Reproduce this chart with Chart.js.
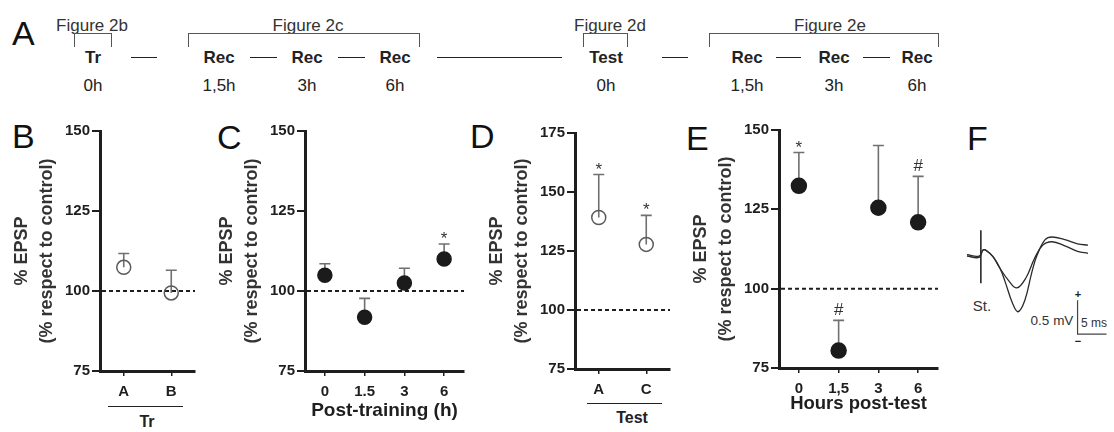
<!DOCTYPE html>
<html>
<head>
<meta charset="utf-8">
<script src="https://cdn.jsdelivr.net/npm/chart.js@4.4.1/dist/chart.umd.min.js"></script>
<style>
  body { margin: 0; background: #fff; width: 1114px; height: 432px; overflow: hidden; position: relative;
         font-family: "Liberation Sans", Arial, sans-serif; }
  canvas { position: absolute; left: 0; top: 0; }
  .t { position: absolute; transform: translate(-50%, -50%); white-space: nowrap; color: #222; font-size: 17px; line-height: 1; }
  .b { font-weight: bold; }
  .letter { position: absolute; font-size: 34px; line-height: 34px; color: #111; }
  .brk { position: absolute; top: 33px; height: 13px; border: 1.5px solid #555; border-bottom: none; }
  .dash { position: absolute; height: 0; border-top: 1.5px solid #222; }
</style>
</head>
<body>

<!-- A: protocol timeline -->
<div class="letter" style="left:12px;top:16px">A</div>
<div class="t" style="left:92px;top:25px;color:#333">Figure 2b</div>
<div class="brk" style="left:74px;width:36px"></div>
<div class="t b" style="left:93px;top:57px">Tr</div>
<div class="t" style="left:93px;top:85px">0h</div>
<div class="dash" style="left:131px;top:57px;width:26px"></div>

<div class="t" style="left:308px;top:25px;color:#333">Figure 2c</div>
<div class="brk" style="left:188px;width:230px"></div>
<div class="t b" style="left:219px;top:57px">Rec</div>
<div class="dash" style="left:250px;top:57px;width:27px"></div>
<div class="t b" style="left:307px;top:57px">Rec</div>
<div class="dash" style="left:338px;top:57px;width:27px"></div>
<div class="t b" style="left:395px;top:57px">Rec</div>
<div class="t" style="left:219px;top:85px">1,5h</div>
<div class="t" style="left:307px;top:85px">3h</div>
<div class="t" style="left:395px;top:85px">6h</div>
<div class="dash" style="left:437px;top:57px;width:125px"></div>

<div class="t" style="left:610px;top:25px;color:#333">Figure 2d</div>
<div class="brk" style="left:583px;width:43px"></div>
<div class="t b" style="left:606px;top:57px">Test</div>
<div class="t" style="left:606px;top:85px">0h</div>
<div class="dash" style="left:662px;top:57px;width:26px"></div>

<div class="t" style="left:830px;top:25px;color:#333">Figure 2e</div>
<div class="brk" style="left:709px;width:228px"></div>
<div class="t b" style="left:747px;top:57px">Rec</div>
<div class="dash" style="left:776px;top:57px;width:25px"></div>
<div class="t b" style="left:834px;top:57px">Rec</div>
<div class="dash" style="left:863px;top:57px;width:27px"></div>
<div class="t b" style="left:917px;top:57px">Rec</div>
<div class="t" style="left:747px;top:85px">1,5h</div>
<div class="t" style="left:834px;top:85px">3h</div>
<div class="t" style="left:917px;top:85px">6h</div>

<!-- panel letters -->
<div class="letter" style="left:12px;top:119px">B</div>
<div class="letter" style="left:217px;top:120px">C</div>
<div class="letter" style="left:470px;top:119px">D</div>
<div class="letter" style="left:686px;top:121px">E</div>
<div class="letter" style="left:967px;top:121px">F</div>

<!-- group labels under B and D -->
<div class="dash" style="left:108px;top:406px;width:75px"></div>
<div class="t b" style="left:147px;top:422px;font-size:16px">Tr</div>
<div class="dash" style="left:587px;top:403px;width:75px"></div>
<div class="t b" style="left:632px;top:418px;font-size:16px">Test</div>

<!-- F labels -->
<div class="t" style="left:982px;top:305px;font-size:15px;color:#333">St.</div>
<div class="t" style="left:1052px;top:321px;font-size:13.5px;color:#333">0.5 mV</div>
<div class="t" style="left:1094px;top:323px;font-size:12px;color:#333">5 ms</div>
<div class="t b" style="left:1078px;top:294px;font-size:11px">+</div>
<div class="t b" style="left:1078px;top:341px;font-size:11px">&minus;</div>

<canvas id="chartB" width="1114" height="432"></canvas>
<canvas id="chartC" width="1114" height="432"></canvas>
<canvas id="chartD" width="1114" height="432"></canvas>
<canvas id="chartE" width="1114" height="432"></canvas>
<canvas id="chartF" width="1114" height="432"></canvas>

<script>
// ---- data ----
const trCats = ['A', 'B'];
const trMean = [107.4, 99.4];
const trErr = [4.3, 7.1];

const recHours = ['0', '1.5', '3', '6'];
const recMean = [104.9, 91.8, 102.5, 110.0];
const recErr = [3.6, 5.9, 4.6, 4.7];
const recSig = ['', '', '', '*'];

const testCats = ['A', 'C'];
const testMean = [139.2, 127.8];
const testErr = [18.2, 12.3];
const testSig = ['*', '*'];

const postHours = ['0', '1,5', '3', '6'];
const postMean = [132.4, 80.5, 125.5, 120.9];
const postErr = [10.5, 9.5, 19.6, 14.5];
const postSig = ['*', '#', '', '#'];

const yTitle = ['% EPSP', '(% respect to control)'];

// F: example EPSP traces (ms, mV)
const smallMs = [1.2, 3.3, 4.0, 4.7, 5.7, 6.9, 8.3, 9.8, 11.4, 12.9, 14.3, 15.9, 18.1, 20.3, 22.1];
const smallMv = [0, -0.02, 0.09, 0.07, -0.01, -0.18, -0.35, -0.47, -0.32, -0.03, 0.16, 0.21, 0.15, 0.07, 0.04];
const largeMs = [1.2, 3.3, 4.0, 4.7, 5.7, 6.9, 7.8, 9.0, 10.0, 11.2, 12.4, 13.3, 14.7, 15.9, 18.1, 20.3, 22.1];
const largeMv = [0.02, 0.0, 0.09, 0.07, -0.01, -0.18, -0.38, -0.68, -0.82, -0.65, -0.24, 0.01, 0.24, 0.28, 0.24, 0.18, 0.16];
const stimMs = 3.6;
const stimMv = [0.38, -0.40];
const barMv = 0.5;
const barMs = 5;
const barAnchor = [20.3, -0.65];

// ---- shared styling ----
const FONT = '"Liberation Sans", Arial, sans-serif';
Chart.defaults.font.family = FONT;
const INK = '#1e1e1e';

// dashed 100% line, upper error bars and significance marks
const panelExtras = {
  id: 'panelExtras',
  beforeDatasetsDraw(chart, args, opts) {
    if (!opts.mean) return;
    const {ctx, chartArea} = chart;
    const x = chart.scales.x, y = chart.scales.y;
    ctx.save();
    const y100 = y.getPixelForValue(100);
    ctx.strokeStyle = INK;
    ctx.lineWidth = 2;
    ctx.setLineDash([4, 3]);
    ctx.beginPath();
    ctx.moveTo(chartArea.left + 2, y100);
    ctx.lineTo(chartArea.right, y100);
    ctx.stroke();
    ctx.setLineDash([]);

    ctx.strokeStyle = '#707070';
    ctx.lineWidth = 1.6;
    ctx.fillStyle = '#333';
    ctx.textAlign = 'center';
    ctx.textBaseline = 'alphabetic';
    ctx.font = '17px ' + FONT;
    opts.mean.forEach((m, i) => {
      const px = x.getPixelForValue(i);
      const y0 = y.getPixelForValue(m);
      const y1 = y.getPixelForValue(m + opts.err[i]);
      ctx.beginPath();
      ctx.moveTo(px, y0);
      ctx.lineTo(px, y1);
      ctx.moveTo(px - 5.5, y1);
      ctx.lineTo(px + 5.5, y1);
      ctx.stroke();
      const s = opts.sig && opts.sig[i];
      if (s) ctx.fillText(s, px, y1 - (s === '*' ? 0 : 5));
    });
    ctx.restore();
  }
};

function makePanel(id, g, cats, mean, err, sig, opts) {
  const yW = 94.5;
  const xH = opts.xTitle ? opts.xTitleY - g.bottom + opts.xTitleSize * 0.6 : 32;
  new Chart(document.getElementById(id), {
    type: 'line',
    data: {
      labels: cats,
      datasets: [{
        data: mean,
        showLine: false,
        pointRadius: opts.r,
        pointBackgroundColor: opts.hollow ? 'rgba(0,0,0,0)' : '#1b1b1b',
        pointBorderColor: opts.hollow ? '#5a5a5a' : '#1b1b1b',
        pointBorderWidth: 1.5
      }]
    },
    options: {
      responsive: false,
      animation: false,
      events: [],
      layout: {
        padding: { left: g.left - yW, top: g.top, right: 1114 - g.right, bottom: 432 - g.bottom - xH }
      },
      plugins: {
        legend: { display: false },
        tooltip: { enabled: false },
        panelExtras: { mean: mean, err: err, sig: sig }
      },
      scales: {
        x: {
          type: 'category',
          offset: true,
          grid: { offset: false, drawOnChartArea: false, tickLength: 5, color: INK, lineWidth: 1.5 },
          border: { color: INK, width: 3 },
          ticks: { color: INK, padding: 7, font: { size: 15, weight: 'bold' } },
          title: opts.xTitle ? {
            display: true, text: opts.xTitle, color: INK, padding: { top: 0, bottom: 0 },
            font: { size: opts.xTitleSize, weight: 'bold', lineHeight: 1.2 }
          } : { display: false },
          afterFit(s) { s.height = xH; }
        },
        y: {
          min: 75,
          max: opts.yMax,
          grid: { drawOnChartArea: false, tickLength: 8, color: INK, lineWidth: 2 },
          border: { color: INK, width: 3 },
          ticks: { stepSize: 25, color: INK, padding: 2, font: { size: 15, weight: 'bold' } },
          title: {
            display: true, text: yTitle, color: '#333', padding: { top: 4, bottom: 0 },
            font: { size: 18, weight: 'bold', lineHeight: 25 / 18 }
          },
          afterFit(s) { s.width = yW; }
        }
      }
    },
    plugins: [panelExtras]
  });
}

makePanel('chartB', { left: 100, right: 195, top: 131, bottom: 371 }, trCats, trMean, trErr, null,
  { hollow: true, r: 7, yMax: 150 });
makePanel('chartC', { left: 305, right: 464, top: 131, bottom: 371 }, recHours, recMean, recErr, recSig,
  { hollow: false, r: 7, yMax: 150, xTitle: 'Post-training (h)', xTitleY: 411, xTitleSize: 19 });
makePanel('chartD', { left: 575, right: 670, top: 133, bottom: 369 }, testCats, testMean, testErr, testSig,
  { hollow: true, r: 7, yMax: 175 });
makePanel('chartE', { left: 779, right: 938, top: 130, bottom: 368 }, postHours, postMean, postErr, postSig,
  { hollow: false, r: 7.5, yMax: 150, xTitle: 'Hours post-test', xTitleY: 404, xTitleSize: 18.5 });

// F: traces
const toXY = (xs, ys) => xs.map((v, i) => ({ x: v, y: ys[i] }));
const traceStyle = { borderColor: '#2a2a2a', borderWidth: 1.3, pointRadius: 0, tension: 0.4, fill: false };
new Chart(document.getElementById('chartF'), {
  type: 'line',
  data: {
    datasets: [
      Object.assign({ data: toXY(smallMs, smallMv) }, traceStyle),
      Object.assign({ data: toXY(largeMs, largeMv) }, traceStyle),
      Object.assign({ data: toXY([stimMs, stimMs], stimMv) }, traceStyle, { tension: 0, borderWidth: 1.6 }),
      Object.assign({
        data: [
          { x: barAnchor[0], y: barAnchor[1] },
          { x: barAnchor[0], y: barAnchor[1] - barMv },
          { x: barAnchor[0] + barMs, y: barAnchor[1] - barMv }
        ]
      }, traceStyle, { tension: 0, borderWidth: 1.2, borderColor: '#444' })
    ]
  },
  options: {
    responsive: false,
    animation: false,
    events: [],
    layout: { padding: { left: 960, right: 4, top: 220, bottom: 72 } },
    plugins: { legend: { display: false }, tooltip: { enabled: false } },
    scales: {
      x: { type: 'linear', display: false, min: 0, max: 25.9 },
      y: { type: 'linear', display: false, min: -1.53, max: 0.53 }
    }
  }
});
</script>
</body>
</html>
